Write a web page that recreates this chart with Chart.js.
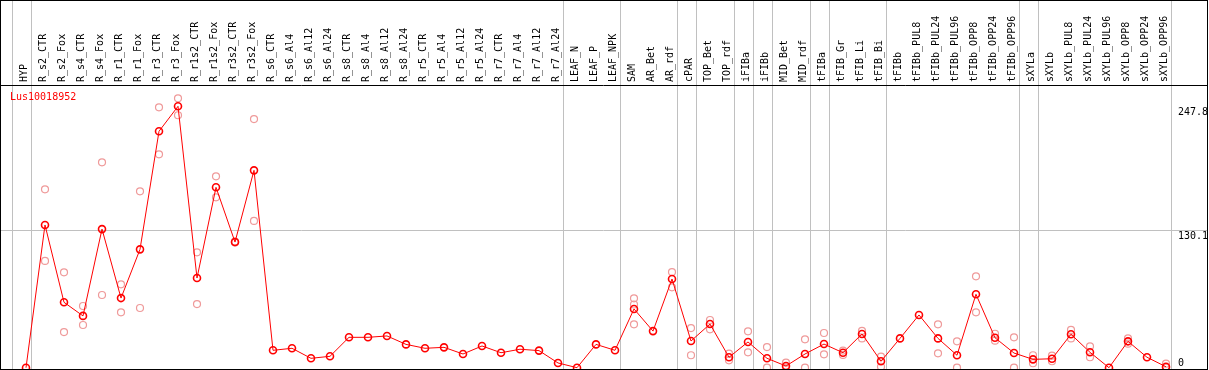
<!DOCTYPE html>
<html>
<head>
<meta charset="utf-8">
<script src="https://cdn.jsdelivr.net/npm/chart.js@4"></script>
<style>
  body { margin: 0; background: #fff; }
  canvas { display: block; }
</style>
</head>
<body>
<canvas id="chart" width="1209" height="370"></canvas>
<script>
const geneName = 'Lus10018952';

const categories = [
  'HYP', 'R_s2_CTR', 'R_s2_Fox', 'R_s4_CTR', 'R_s4_Fox', 'R_r1_CTR', 'R_r1_Fox',
  'R_r3_CTR', 'R_r3_Fox', 'R_r1s2_CTR', 'R_r1s2_Fox', 'R_r3s2_CTR', 'R_r3s2_Fox',
  'R_s6_CTR', 'R_s6_Al4', 'R_s6_Al12', 'R_s6_Al24', 'R_s8_CTR', 'R_s8_Al4', 'R_s8_Al12',
  'R_s8_Al24', 'R_r5_CTR', 'R_r5_Al4', 'R_r5_Al12', 'R_r5_Al24', 'R_r7_CTR', 'R_r7_Al4',
  'R_r7_Al12', 'R_r7_Al24', 'LEAF_N', 'LEAF_P', 'LEAF_NPK', 'SAM', 'AR_Bet', 'AR_rdf',
  'cPAR', 'TOP_Bet', 'TOP_rdf', 'iFIBa', 'iFIBb', 'MID_Bet', 'MID_rdf', 'tFIBa',
  'tFIB_Gr', 'tFIB_Li', 'tFIB_Bi', 'tFIBb', 'tFIBb_PUL8', 'tFIBb_PUL24', 'tFIBb_PUL96',
  'tFIBb_OPP8', 'tFIBb_OPP24', 'tFIBb_OPP96', 'sXYLa', 'sXYLb', 'sXYLb_PUL8',
  'sXYLb_PUL24', 'sXYLb_PUL96', 'sXYLb_OPP8', 'sXYLb_OPP24', 'sXYLb_OPP96'
];

// last sample of each tissue group (a separator is drawn after it)
const groupEnds = [
  'HYP', 'R_r7_Al24', 'LEAF_NPK', 'AR_rdf', 'cPAR', 'TOP_rdf', 'iFIBa', 'iFIBb',
  'MID_rdf', 'tFIBa', 'tFIB_Bi', 'tFIBb_OPP96', 'sXYLa', 'sXYLb_OPP96'
];

const meanValues = [
  0, 135.3, 62.0, 49.1, 131.4, 66.0, 112.2,
  224.1, 247.8, 85.0, 171.0, 119.1, 187.1,
  16.5, 18.4, 8.9, 10.8, 28.8, 28.8, 30.1,
  22.1, 18.4, 19.3, 13.0, 20.6, 14.2, 17.5,
  16.2, 4.5, 0, 22.1, 16.5, 55.7, 34.7, 84.1,
  25.3, 41.4, 9.9, 24.4, 8.9, 1.6, 13.0, 22.4,
  14.2, 32.0, 6.1, 27.8, 50.0, 27.8, 11.8,
  69.6, 28.4, 13.9, 7.9, 8.5, 31.7,
  14.6, 0, 25.0, 9.9, 0.9
];

const repHigh = [
  null, 169.1, 90.4, 58.5, 194.7, 79.0, 167.2,
  246.8, 255.4, 109.4, 181.4, 119.6, 235.7,
  null, null, null, null, null, null, null,
  null, null, null, null, null, null, null,
  null, null, null, null, null, 65.8, null, 90.7,
  37.6, 45.2, 13.3, 34.5, 19.6, 4.8, 26.9, 32.9,
  16.2, 35.0, 10.5, null, null, 41.1, 25.0,
  86.6, 32.2, 28.8, 11.8, 11.4, 35.8,
  20.3, null, 27.8, null, 3.8
];

const repMid = [
  null, null, null, null, null, null, null,
  null, null, null, null, null, null,
  null, null, null, null, null, null, null,
  null, null, null, null, null, null, null,
  null, null, null, null, null, 59.9, null, null,
  null, null, null, null, null, null, null, null,
  null, null, null, null, null, null, null,
  null, null, null, null, null, null,
  null, null, null, null, null
];

const repLow = [
  null, 101.2, 33.8, 40.5, 68.9, 52.5, 56.6,
  202.3, 239.3, 60.3, 161.5, 118.6, 139.1,
  null, null, null, null, null, null, null,
  null, null, null, null, null, null, null,
  null, null, null, null, null, 41.1, null, 76.2,
  11.8, 36.4, 7.0, 14.6, 0, 0, 0, 12.7,
  12.1, 27.8, 0.9, null, null, 13.6, 0,
  52.5, 25.6, 0, 4.2, 6.1, 27.8,
  9.9, null, 22.8, null, 0
];

const yTicks = [0, 130.1, 247.8];

const FONT = '10px "DejaVu Sans Mono", monospace';
const GRID = '#c0c0c0';

function toPoints(values) {
  return values.map((v, i) => ({ x: i, y: v }));
}

function repDataset(values) {
  return {
    data: toPoints(values),
    showLine: false,
    pointRadius: 3.5,
    pointBorderWidth: 1.2,
    pointBorderColor: '#ef9a9a',
    pointBackgroundColor: 'rgba(0,0,0,0)',
    order: 2,
    clip: 0
  };
}

const frame = {
  id: 'frame',
  beforeDatasetsDraw(chart) {
    const ctx = chart.ctx;
    const x = chart.scales.x;
    const y = chart.scales.y;
    const area = chart.chartArea;
    ctx.save();
    ctx.strokeStyle = GRID;
    ctx.lineWidth = 1;
    // group separators
    let ends = [-1].concat(groupEnds.map(n => categories.indexOf(n)));
    ends.forEach(i => {
      let px = Math.round(x.getPixelForValue(i + 0.26)) + 0.5;
      ctx.beginPath();
      ctx.moveTo(px, 0);
      ctx.lineTo(px, area.bottom);
      ctx.stroke();
    });
    // middle gridline
    let gy = Math.round(y.getPixelForValue(yTicks[1])) + 0.5;
    ctx.beginPath();
    ctx.moveTo(0, gy);
    ctx.lineTo(area.right, gy);
    ctx.stroke();
    ctx.restore();
  },
  afterDatasetsDraw(chart) {
    const ctx = chart.ctx;
    const x = chart.scales.x;
    const y = chart.scales.y;
    const area = chart.chartArea;
    ctx.save();
    // border and header line
    ctx.strokeStyle = '#000';
    ctx.lineWidth = 1;
    ctx.strokeRect(0.5, 0.5, area.right, area.bottom);
    ctx.beginPath();
    ctx.moveTo(0, area.top + 0.5);
    ctx.lineTo(area.right, area.top + 0.5);
    ctx.stroke();

    ctx.font = FONT;
    ctx.fillStyle = '#000';
    // rotated sample names
    categories.forEach((name, i) => {
      let px = x.getPixelForValue(i) - 2;
      ctx.save();
      ctx.translate(px, area.top - 3);
      ctx.rotate(-Math.PI / 2);
      ctx.textAlign = 'left';
      ctx.textBaseline = 'middle';
      ctx.fillText(name, 0, 0);
      ctx.restore();
    });

    // value labels on the right
    ctx.textAlign = 'left';
    ctx.textBaseline = 'top';
    yTicks.forEach(v => {
      let py = Math.round(y.getPixelForValue(v)) + 1;
      py = Math.min(py, area.bottom - 11);
      ctx.fillText(String(v), 1178, py);
    });

    // gene name
    ctx.fillStyle = '#ff0000';
    ctx.textBaseline = 'middle';
    ctx.fillText(geneName, 10, area.top + 12);
    ctx.restore();
  }
};

new Chart(document.getElementById('chart'), {
  type: 'scatter',
  data: {
    datasets: [
      {
        data: toPoints(meanValues),
        showLine: true,
        borderColor: '#ff0000',
        borderWidth: 1,
        pointRadius: 3.5,
        pointBorderWidth: 1.6,
        pointBorderColor: '#ff0000',
        pointBackgroundColor: 'rgba(0,0,0,0)',
        order: 1,
        clip: 0
      },
      repDataset(repHigh),
      repDataset(repMid),
      repDataset(repLow)
    ]
  },
  options: {
    responsive: false,
    animation: false,
    events: [],
    layout: { autoPadding: false, padding: { top: 85, bottom: 1, left: 1, right: 2 } },
    plugins: { legend: { display: false }, tooltip: { enabled: false } },
    scales: {
      x: { type: 'linear', display: false, min: -1.316, max: 62.158 },
      y: { type: 'linear', display: false, min: -1.23, max: 268.0 }
    }
  },
  plugins: [frame]
});
</script>
</body>
</html>
